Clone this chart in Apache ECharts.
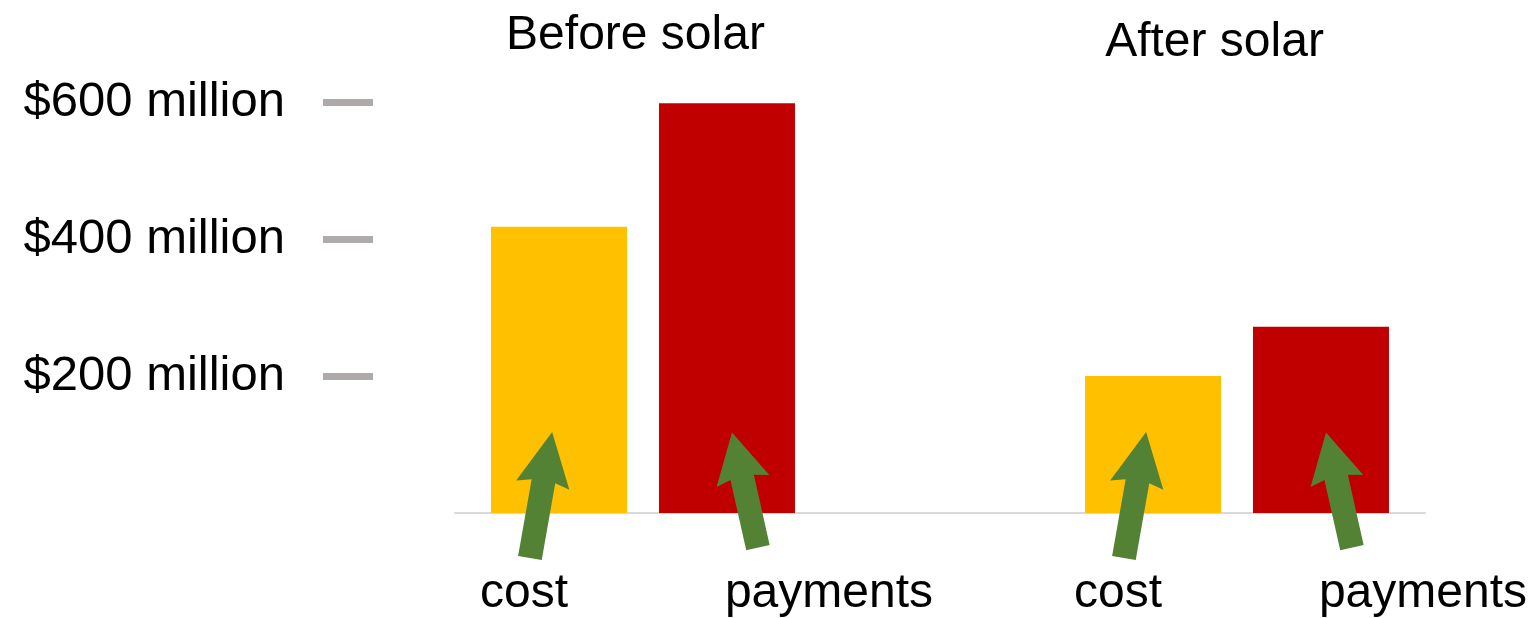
<!DOCTYPE html>
<html>
<head>
<meta charset="utf-8">
<script src="https://cdn.jsdelivr.net/npm/echarts@6/dist/echarts.min.js"></script>
<style>
html, body { margin: 0; padding: 0; background: #fff; }
#main { width: 1537px; height: 618px; }
</style>
</head>
<body>
<div id="main"></div>
<script>
// data (millions of dollars)
var periods = ['Before solar', 'After solar'];
var costValues = [418, 200];
var paymentValues = [598, 272];
var tickValues = [200, 400, 600];

var FONT = 'Liberation Sans';
var arrowPath = 'path://M27,0 L54,54 L39,50 L39,128 L15,128 L15,50 L0,54 Z';

// green arrow under each bar, pointing at its foot
function arrows(rot, offset, size) {
  return {
    symbol: arrowPath,
    symbolSize: size,
    symbolRotate: rot,
    symbolOffset: offset,
    silent: true,
    itemStyle: { color: '#548235' },
    label: { show: false },
    data: periods.map(function (p, i) { return { coord: [i, 0] }; })
  };
}

function barLabel(dx) {
  return {
    show: true,
    position: 'bottom',
    distance: 0,
    offset: [dx, 57],
    formatter: '{a}',
    color: '#000',
    fontFamily: FONT,
    fontSize: 48
  };
}

var myChart = echarts.init(document.getElementById('main'));
var option = {
  animation: false,
  grid: [
    { left: 346, right: 3, top: 102, bottom: 105, outerBoundsMode: 'none' },
    { left: 455, right: 112, top: 102, bottom: 105, outerBoundsMode: 'none' }
  ],
  xAxis: [
    {
      gridIndex: 0, type: 'category', data: periods,
      axisLine: { show: false }, axisTick: { show: false }, axisLabel: { show: false }
    },
    {
      gridIndex: 0, type: 'category', position: 'top', data: periods,
      axisLine: { show: false }, axisTick: { show: false },
      axisLabel: {
        margin: 35,
        formatter: function (v, i) { return '{p' + i + '|' + v + '}'; },
        rich: {
          p0: { fontFamily: FONT, fontSize: 48, lineHeight: 48, color: '#000', padding: [0, 15, 14, 0] },
          p1: { fontFamily: FONT, fontSize: 48, lineHeight: 48, color: '#000', padding: [0, 45, 0, 0] }
        }
      }
    },
    {
      gridIndex: 1, type: 'category', data: periods,
      axisLine: { lineStyle: { color: '#D9D9D9', width: 2 } },
      axisTick: { show: false }, axisLabel: { show: false }
    }
  ],
  yAxis: [
    { gridIndex: 0, type: 'value', min: 0, max: 600, show: false },
    {
      gridIndex: 1, type: 'value', min: 0, max: 600, offset: 82,
      axisLine: { show: false },
      splitLine: { show: false },
      axisTick: {
        show: true, length: 50, customValues: tickValues,
        lineStyle: { color: '#AEAAAA', width: 7 }
      },
      axisLabel: {
        customValues: tickValues,
        margin: 88,
        formatter: '${value} million',
        color: '#000',
        fontFamily: FONT,
        fontSize: 49
      }
    }
  ],
  series: [
    {
      name: 'cost', type: 'bar', xAxisIndex: 0, yAxisIndex: 0,
      data: costValues, barWidth: 136, barGap: '23.5%',
      itemStyle: { color: '#FFC000' },
      label: barLabel(-35),
      markPoint: arrows(-10, [-18, -18], [54, 128])
    },
    {
      name: 'payments', type: 'bar', xAxisIndex: 0, yAxisIndex: 0,
      data: paymentValues, barWidth: 136, barGap: '23.5%',
      itemStyle: { color: '#C00000' },
      label: barLabel(102),
      markPoint: arrows(12.7, [18, -23], [54, 118])
    }
  ]
};
myChart.setOption(option);
</script>
</body>
</html>
